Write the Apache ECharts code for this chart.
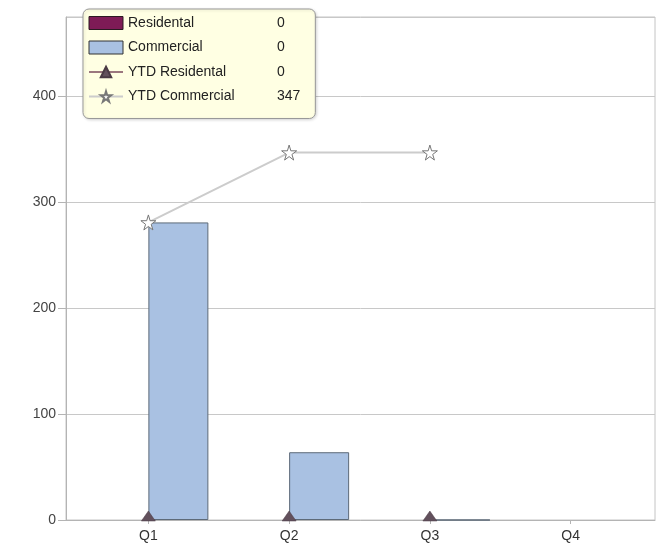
<!DOCTYPE html>
<html>
<head>
<meta charset="utf-8">
<script src="https://cdn.jsdelivr.net/npm/echarts@6/dist/echarts.min.js"></script>
<style>
  html, body { margin: 0; padding: 0; background: #fff; }
  #chart { width: 667px; height: 551px; }
</style>
</head>
<body>
<div id="chart"></div>
<script>
// Quarterly residential / commercial counts with year-to-date lines
const quarters = ['Q1', 'Q2', 'Q3', 'Q4'];
const residental = [0, 0, 0, null];
const commercial = [281, 64, 0, null];
const ytdResidental = [0, 0, 0, null];
const ytdCommercial = [281, 347, 347, null];
const legendNames = ['Residental', 'Commercial', 'YTD Residental', 'YTD Commercial'];
const legendValues = [0, 0, 0, 347];

const FONT = '"Liberation Sans", Arial, sans-serif';
const STAR = 'path://M50,0 L61,35 L98,35 L68,57 L79,91 L50,70 L21,91 L32,57 L2,35 L39,35 Z';

const chart = echarts.init(document.getElementById('chart'), null, { renderer: 'canvas' });

const yScale = { type: 'value', min: 0, max: 475, interval: 100 };

// legend entries: bars get plain rects with a dark edge, the zero line still shows its stroke
const legendData = legendNames.map((name, i) => {
  if (i === 0) return { name, icon: 'rect', itemStyle: { borderColor: '#2a1a22', borderWidth: 1 } };
  if (i === 1) return { name, icon: 'rect', itemStyle: { borderColor: '#333', borderWidth: 1 } };
  if (i === 2) return { name, lineStyle: { opacity: 1, color: '#7a4a5c', width: 1.5 } };
  return { name };
});

chart.setOption({
  backgroundColor: '#fff',
  textStyle: { fontFamily: FONT },
  animation: false,
  grid: [
    { left: 66, right: 12, top: 17, bottom: 31, show: true, borderColor: '#c4c4c4', borderWidth: 1 },
    { left: 78, right: 26, top: 17, bottom: 31 },
  ],
  xAxis: [
    { gridIndex: 0, type: 'category', data: quarters, axisLine: { lineStyle: { color: '#b4b4b4' } },
      axisTick: { show: false }, axisLabel: { show: false } },
    { gridIndex: 1, type: 'category', data: quarters, axisLine: { show: false },
      axisTick: { show: true, alignWithLabel: true, length: 4, lineStyle: { color: '#b4b4b4' } },
      axisLabel: { color: '#333', fontSize: 14, margin: 9, fontFamily: FONT } },
  ],
  yAxis: [
    Object.assign({ gridIndex: 0 }, yScale, {
      axisLine: { show: true, lineStyle: { color: '#b4b4b4' } },
      axisTick: { show: true, length: 8, lineStyle: { color: '#b4b4b4' } },
      axisLabel: { color: '#444', fontSize: 14, margin: 10, showMaxLabel: false, fontFamily: FONT },
      splitLine: { lineStyle: { color: '#c8c8c8' } },
    }),
    Object.assign({ gridIndex: 1, show: false }, yScale),
  ],
  legend: {
    orient: 'vertical', left: 83, top: 9,
    padding: [7, 15, 15, 5],
    backgroundColor: '#ffffe3', borderColor: '#999', borderWidth: 1, borderRadius: 6,
    shadowColor: 'rgba(0,0,0,0.15)', shadowBlur: 3, shadowOffsetX: 1, shadowOffsetY: 1,
    itemWidth: 34, itemHeight: 13, itemGap: 10.5,
    data: legendData,
    formatter: name => `{n|${name}}{v|${legendValues[legendNames.indexOf(name)]}}`,
    textStyle: {
      fontFamily: FONT, color: '#222',
      rich: { n: { width: 149, fontSize: 14, fontFamily: FONT, color: '#222' },
              v: { fontSize: 14, fontFamily: FONT, color: '#222' } },
    },
  },
  series: [
    { name: 'Residental', type: 'bar', xAxisIndex: 1, yAxisIndex: 1, data: residental,
      barWidth: 60, barGap: '0%',
      itemStyle: { color: '#7e1b56', borderColor: '#3a1a2a', borderWidth: 0 } },
    { name: 'Commercial', type: 'bar', xAxisIndex: 1, yAxisIndex: 1, data: commercial,
      barWidth: 60, barGap: '0%',
      itemStyle: { color: '#a9c1e2', borderColor: '#5d6a78', borderWidth: 1 } },
    { name: 'YTD Residental', type: 'line', xAxisIndex: 1, yAxisIndex: 1, data: ytdResidental,
      symbol: 'triangle', symbolSize: [14, 10], symbolOffset: [0, -4],
      lineStyle: { color: '#7a4a5c', width: 1, opacity: 0 },
      itemStyle: { color: '#62505c', borderColor: '#4a3a44', borderWidth: 0.5 } },
    { name: 'YTD Commercial', type: 'line', xAxisIndex: 1, yAxisIndex: 1, data: ytdCommercial,
      symbol: STAR, symbolSize: 15,
      lineStyle: { color: '#cccccc', width: 2 },
      itemStyle: { color: '#ffffff', borderColor: '#777', borderWidth: 1 } },
  ],
});
</script>
</body>
</html>
